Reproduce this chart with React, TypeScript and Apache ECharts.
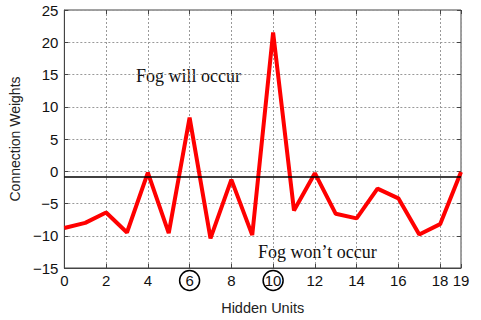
import React, { useEffect, useRef } from "react";
import * as echarts from "echarts";

const hiddenUnits = [0, 1, 2, 3, 4, 5, 6, 7, 8, 9, 10, 11, 12, 13, 14, 15, 16, 17, 18, 19];
const weights = [-8.8, -8.0, -6.4, -9.5, -0.2, -9.6, 8.3, -10.4, -1.3, -9.9, 21.5, -6.1, -0.3, -6.6, -7.3, -2.7, -4.2, -9.8, -8.2, -0.1];
const thresholdValue = -0.9;
const circledTicks = [6, 10];
const upperText = "Fog will occur";
const lowerText = "Fog won\u2019t occur";

export default function App() {
  const ref = useRef<HTMLDivElement>(null);
  useEffect(() => {
    if (!ref.current) return;
    const chart = echarts.init(ref.current, null, { renderer: "svg" });
    const font = "'Liberation Sans', Arial, sans-serif";
    const serif = "'Liberation Serif', 'Times New Roman', serif";
    const data = hiddenUnits.map((u, i) => [u, weights[i]]);
    chart.setOption({
      animation: false,
      backgroundColor: "#fff",
      grid: {
        left: 59,
        right: 20,
        top: 10,
        bottom: 47,
        show: true,
        borderColor: "#444",
        borderWidth: 1,
      },
      xAxis: [
        {
          type: "value",
          min: 0,
          max: 19,
          interval: 2,
          name: "Hidden Units",
          nameLocation: "middle",
          nameGap: 32,
          nameTextStyle: { fontFamily: font, fontSize: 14.5, color: "#222" },
          axisLine: { show: true, onZero: false, lineStyle: { color: "#444", width: 1 } },
          axisTick: { show: true, inside: true, length: 4, lineStyle: { color: "#444" } },
          splitLine: { show: true, lineStyle: { color: "#999", type: [2, 2], width: 1 } },
          axisLabel: {
            margin: 2,
            formatter: (v: number) =>
              circledTicks.includes(v) ? `{c|${v}}` : `{n|${v}}`,
            rich: {
              n: { fontFamily: font, fontSize: 15, color: "#111", height: 21, lineHeight: 21, align: "center" },
              c: {
                fontFamily: font,
                fontSize: 15,
                color: "#111",
                height: 20,
                width: 20,
                lineHeight: 21,
                align: "center",
                borderColor: "#000",
                borderWidth: 1.5,
                borderRadius: 11,
              },
            },
          },
        },
        {
          type: "value",
          position: "top",
          min: 0,
          max: 19,
          interval: 2,
          axisLine: { show: false, onZero: false },
          axisTick: { show: true, inside: true, length: 4, lineStyle: { color: "#444" } },
          axisLabel: { show: false },
          splitLine: { show: false },
        },
      ],
      yAxis: [
        {
          type: "value",
          min: -15,
          max: 25,
          interval: 5,
          name: "Connection Weights",
          nameLocation: "middle",
          nameGap: 30,
          nameTextStyle: { fontFamily: font, fontSize: 14, color: "#222" },
          axisLine: { show: true, onZero: false, lineStyle: { color: "#444", width: 1 } },
          axisTick: { show: true, inside: true, length: 4, lineStyle: { color: "#444" } },
          splitLine: { show: true, lineStyle: { color: "#999", type: [2, 2], width: 1 } },
          axisLabel: {
            margin: 6,
            fontFamily: font,
            fontSize: 15,
            color: "#111",
            formatter: (v: number) => (v < 0 ? "\u2212" + Math.abs(v) : String(v)),
          },
        },
        {
          type: "value",
          position: "right",
          min: -15,
          max: 25,
          interval: 5,
          axisLine: { show: false, onZero: false },
          axisTick: { show: true, inside: true, length: 4, lineStyle: { color: "#444" } },
          axisLabel: { show: false },
          splitLine: { show: false },
        },
      ],
      series: [
        {
          type: "line",
          data,
          symbol: "none",
          lineStyle: { color: "#ff0000", width: 4 },
          z: 3,
          markLine: {
            silent: true,
            symbol: "none",
            label: { show: false },
            lineStyle: { color: "#000", width: 1.6, type: "solid" },
            data: [{ yAxis: thresholdValue }],
            z: 4,
          },
        },
      ],
      graphic: [
        {
          type: "text",
          left: 136,
          top: 67,
          style: { text: upperText, font: `18px ${serif}`, fill: "#111" },
        },
        {
          type: "text",
          left: 258,
          top: 243,
          style: { text: lowerText, font: `18px ${serif}`, fill: "#111" },
        },
      ],
    });
    return () => chart.dispose();
  }, []);
  return (
    <div
      ref={ref}
      style={{ position: "absolute", left: 0, top: 0, width: 481, height: 320 }}
    />
  );
}
